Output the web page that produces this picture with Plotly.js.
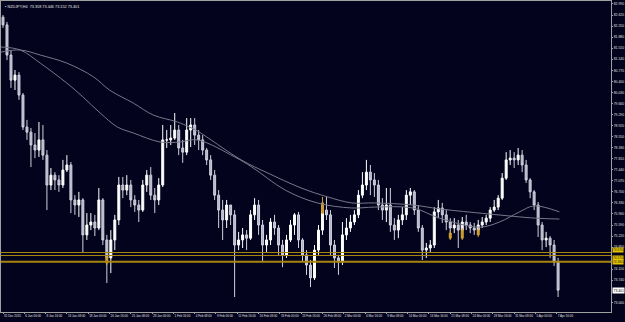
<!DOCTYPE html>
<html><head><meta charset="utf-8">
<script src="https://cdn.plot.ly/plotly-3.0.1.min.js"></script>
<style>html,body{margin:0;padding:0;background:#03031d;}#chart{width:625px;height:322px;}</style>
</head><body><div id="chart"></div>
<script>
// NZDJPY H4 — each candle = 3 H4 bars (bar index on x)
const open  = [82.55,82.29,81.28,80.44,80.61,79.94,78.87,78.70,78.27,78.10,78.44,77.93,76.93,77.26,77.10,76.93,77.43,77.60,76.43,76.26,76.43,75.26,75.59,75.69,75.49,76.43,75.09,74.49,75.09,75.76,76.93,76.76,76.93,76.43,76.26,76.09,76.93,77.26,76.59,76.43,76.93,78.44,78.44,78.50,78.77,78.17,78.03,78.77,78.94,78.60,78.44,78.10,77.77,77.26,76.59,76.09,75.76,76.26,75.93,74.92,75.09,75.26,75.15,75.93,76.26,75.59,74.92,75.09,75.69,75.49,74.92,74.59,75.09,75.59,75.93,75.09,74.59,74.25,73.82,74.75,75.42,76.09,75.93,74.92,74.49,74.35,75.26,75.49,75.69,75.93,76.59,76.93,77.36,77.10,76.93,76.26,76.09,76.26,75.59,75.42,75.76,75.93,76.59,76.70,76.09,75.49,74.75,74.82,74.92,76.03,76.16,75.93,75.69,75.49,75.59,75.42,75.69,75.59,75.49,75.42,75.59,75.69,75.82,76.09,76.19,76.49,77.16,77.77,77.83,77.77,77.93,77.60,77.10,76.70,76.26,75.59,75.09,75.15,74.92,74.35];
const high  = [82.62,82.39,81.45,80.78,80.71,80.01,79.11,78.84,78.67,79.04,78.94,78.10,77.50,77.36,77.26,77.77,77.93,77.70,76.59,76.70,76.49,75.99,75.99,75.93,76.83,76.49,75.26,75.42,75.93,77.20,77.20,77.26,77.10,76.59,76.43,77.10,77.43,77.53,76.83,77.16,78.94,78.77,78.94,79.34,78.94,78.44,79.17,79.17,79.17,78.77,78.60,78.17,77.93,77.43,76.76,76.43,76.43,76.26,76.09,75.36,75.49,75.42,76.09,76.49,76.43,75.76,75.26,75.82,75.93,75.59,75.09,75.26,75.76,75.99,76.03,75.15,74.75,74.42,74.92,75.59,76.26,76.53,76.09,75.09,74.59,75.69,75.82,75.93,76.09,76.76,77.36,77.77,77.60,77.33,77.10,76.49,76.83,76.83,75.82,75.93,76.19,76.76,76.83,76.76,76.26,75.59,74.99,75.09,76.19,76.43,76.33,76.09,75.82,75.82,75.76,75.86,75.93,75.69,75.66,75.76,75.86,75.93,76.19,76.43,76.59,77.33,78.03,78.10,78.03,78.17,78.10,77.77,77.16,76.76,76.36,75.69,75.36,75.22,75.09,74.49];
const low   = [82.19,81.11,80.18,80.11,79.78,78.77,78.44,77.53,77.83,77.87,77.77,76.09,76.76,76.76,76.70,76.83,77.36,75.99,75.93,75.86,74.65,75.09,75.42,75.22,75.42,74.92,73.65,73.98,74.75,75.59,76.49,76.59,76.19,76.03,75.69,76.03,76.70,76.43,75.99,76.26,76.86,78.17,78.27,78.44,77.93,77.67,77.93,78.20,78.27,78.10,77.93,77.60,77.10,76.43,75.49,75.09,75.49,75.59,73.18,74.75,74.82,74.75,75.09,75.76,75.26,74.35,74.69,74.92,75.26,74.59,74.18,74.49,75.02,75.26,74.82,74.35,73.92,73.51,73.75,74.59,75.26,75.76,74.59,74.15,73.92,74.25,75.09,75.36,75.59,75.82,76.49,76.76,76.59,76.53,76.09,75.76,75.69,75.36,75.09,75.15,75.59,75.76,76.26,75.93,75.36,74.42,74.49,74.69,74.82,75.82,75.66,75.42,75.19,75.32,74.82,75.22,75.42,75.32,75.26,75.26,75.49,75.59,75.69,76.03,76.09,76.43,77.10,77.60,77.50,77.60,77.36,77.00,76.49,76.09,75.19,74.75,74.85,74.49,74.22,73.18];
const close = [82.29,81.28,80.44,80.61,79.94,78.87,78.70,78.27,78.10,78.44,77.93,76.93,77.26,77.10,76.93,77.43,77.60,76.43,76.26,76.43,75.26,75.59,75.69,75.49,76.43,75.09,74.49,75.09,75.76,76.93,76.76,76.93,76.43,76.26,76.09,76.93,77.26,76.59,76.43,76.93,78.44,78.44,78.50,78.77,78.17,78.03,78.77,78.94,78.60,78.44,78.10,77.77,77.26,76.59,76.09,75.76,76.26,75.93,74.92,75.09,75.26,75.15,75.93,76.26,75.59,74.92,75.09,75.69,75.49,74.92,74.59,75.09,75.59,75.93,75.09,74.59,74.25,73.82,74.75,75.42,76.09,75.93,74.92,74.49,74.35,75.26,75.49,75.69,75.93,76.59,76.93,77.36,77.10,76.93,76.26,76.09,76.26,75.59,75.42,75.76,75.93,76.59,76.70,76.09,75.49,74.75,74.82,74.92,76.03,76.16,75.93,75.69,75.49,75.59,75.42,75.69,75.59,75.49,75.42,75.59,75.69,75.82,76.09,76.19,76.49,77.16,77.77,77.83,77.77,77.93,77.60,77.10,76.70,76.26,75.59,75.09,75.15,74.92,74.35,73.41];

// highlighted (gold) candles
const hlBar   = [78, 240, 336, 345, 357];
const hlOpen  = [74.52, 75.99, 75.15, 75.15, 75.26];
const hlHigh  = [74.59, 76.53, 75.42, 75.49, 75.49];
const hlLow   = [74.25, 75.96, 75.09, 75.09, 75.19];
const hlClose = [74.32, 76.33, 75.32, 75.42, 75.42];

// moving averages
const maFastBar = [-1.5,13,28,48,60,73,86,98,118,133,146,174,187,212,236,262,279,308,328,358,373,388,399,418];
const maFast    = [81.55,81.45,81.01,80.34,79.88,79.34,78.87,78.67,78.37,78.37,78.44,77.87,77.53,76.76,76.33,76.16,76.19,76.16,75.82,75.52,75.69,76.03,76.23,76.03];
const maSlowBar = [-1.5,13,28,48,68,80,98,113,131,140,146,179,199,224,244,262,279,308,328,365,400,418];
const maSlow    = [81.38,81.45,81.28,81.01,80.55,80.11,79.67,79.27,79.04,78.87,78.74,77.77,77.33,76.83,76.53,76.33,76.33,76.26,76.13,75.96,75.82,75.79];

// horizontal levels
const levels = [74.67, 74.57, 74.36];
const levelWidths = [1, 1, 2];
const levelAnchors = ['bottom', 'top', 'middle'];
const lastPrice = 73.401;

// axes
const xTickBars = [0,16,32,48,64,80,96,112,128,144,160,176,192,208,224,240,256,272,288,304,320,336,352,368,384,400,416];
const xTickText = ["31 Dec 2015","6 Jan 00:00","8 Jan 16:00","13 Jan 08:00","18 Jan 00:00","20 Jan 16:00","25 Jan 08:00","28 Jan 00:00","1 Feb 16:00","4 Feb 08:00","9 Feb 00:00","11 Feb 16:00","16 Feb 08:00","19 Feb 00:00","23 Feb 16:00","26 Feb 08:00","2 Mar 00:00","4 Mar 16:00","9 Mar 08:00","14 Mar 00:00","16 Mar 16:00","21 Mar 08:00","24 Mar 00:00","28 Mar 16:00","31 Mar 08:00","5 Apr 00:00","7 Apr 16:00"];
const yTickVals = [82.99,82.62,82.25,81.88,81.51,81.14,80.77,80.40,80.03,79.66,79.29,78.92,78.55,78.18,77.81,77.44,77.07,76.70,76.33,75.96,75.59,75.22,74.85,74.11,73.74,73.00];
const title = "NZDJPY,H4  73.358 73.446 73.152 73.401";

const bars = close.map((_, i) => 3 * i);
const BG = '#03031d';
const F = 'Liberation Sans, Arial, sans-serif';

const traces = [
  {type:'scatter', mode:'lines', x:maSlowBar, y:maSlow, line:{color:'#77778a', width:1, shape:'spline'}, hoverinfo:'skip'},
  {type:'scatter', mode:'lines', x:maFastBar, y:maFast, line:{color:'#77778a', width:1, shape:'spline'}, hoverinfo:'skip'},
  {type:'candlestick', x:bars, open:open, high:high, low:low, close:close,
   increasing:{line:{color:'#ffffff', width:1}, fillcolor:'#ffffff'},
   decreasing:{line:{color:'#d0d0de', width:1}, fillcolor:'#b4b4c8'}, whiskerwidth:0},
  {type:'candlestick', x:hlBar, open:hlOpen, high:hlHigh, low:hlLow, close:hlClose,
   increasing:{line:{color:'#d4a437', width:1}, fillcolor:'#c8962c'},
   decreasing:{line:{color:'#d4a437', width:1}, fillcolor:'#c8962c'}, whiskerwidth:0}
];

const shapes = levels.map((v, i) => ({type:'line', xref:'paper', x0:0, x1:1, yref:'y', y0:v, y1:v,
  line:{color:'#a8860e', width:levelWidths[i]}}));

const annotations = [
  {xref:'paper', yref:'paper', x:0.004, y:0.995, xanchor:'left', yanchor:'top', showarrow:false,
   text:'▪ ' + title, font:{family:F, size:3.8, color:'#e6e6e6'}},
  ...levels.map((v, i) => ({xref:'paper', yref:'y', x:1, y:v, xanchor:'left', yanchor:levelAnchors[i], xshift:1, showarrow:false,
   text:v.toFixed(3), font:{family:F, size:3.2, color:'#202000'}, bgcolor:'#e6c400', borderpad:0})),
  {xref:'paper', yref:'y', x:1, y:lastPrice, xanchor:'left', yanchor:'middle', xshift:1, showarrow:false,
   text:lastPrice.toFixed(3), font:{family:F, size:3.4, color:'#000000'}, bgcolor:'#ffffff', borderpad:0.5}
];

const layout = {
  width:625, height:322,
  margin:{l:1, r:14, t:1, b:10, pad:0},
  paper_bgcolor:BG, plot_bgcolor:BG,
  showlegend:false, hovermode:false,
  xaxis:{range:[-1.5, 456.75], showgrid:false, zeroline:false, rangeslider:{visible:false},
    tickmode:'array', tickvals:xTickBars, ticktext:xTickText, ticklabelposition:'outside right', tickangle:0,
    ticks:'outside', ticklen:1, tickcolor:'#a0a0a0', showline:true, linecolor:'#a0a0a0', linewidth:1, mirror:true,
    tickfont:{family:F, size:3.0, color:'#e0e0e0'}, fixedrange:true, automargin:false},
  yaxis:{range:[72.678, 83.09], side:'right', showgrid:false, zeroline:false,
    tickmode:'array', tickvals:yTickVals, ticktext:yTickVals.map(v => v.toFixed(3)),
    ticks:'outside', ticklen:1, tickcolor:'#a0a0a0', showline:true, linecolor:'#a0a0a0', linewidth:1, mirror:true,
    tickfont:{family:F, size:3.4, color:'#e0e0e0'}, fixedrange:true, automargin:false},
  shapes:shapes, annotations:annotations
};

Plotly.newPlot('chart', traces, layout, {staticPlot:true, displayModeBar:false});
</script></body></html>
